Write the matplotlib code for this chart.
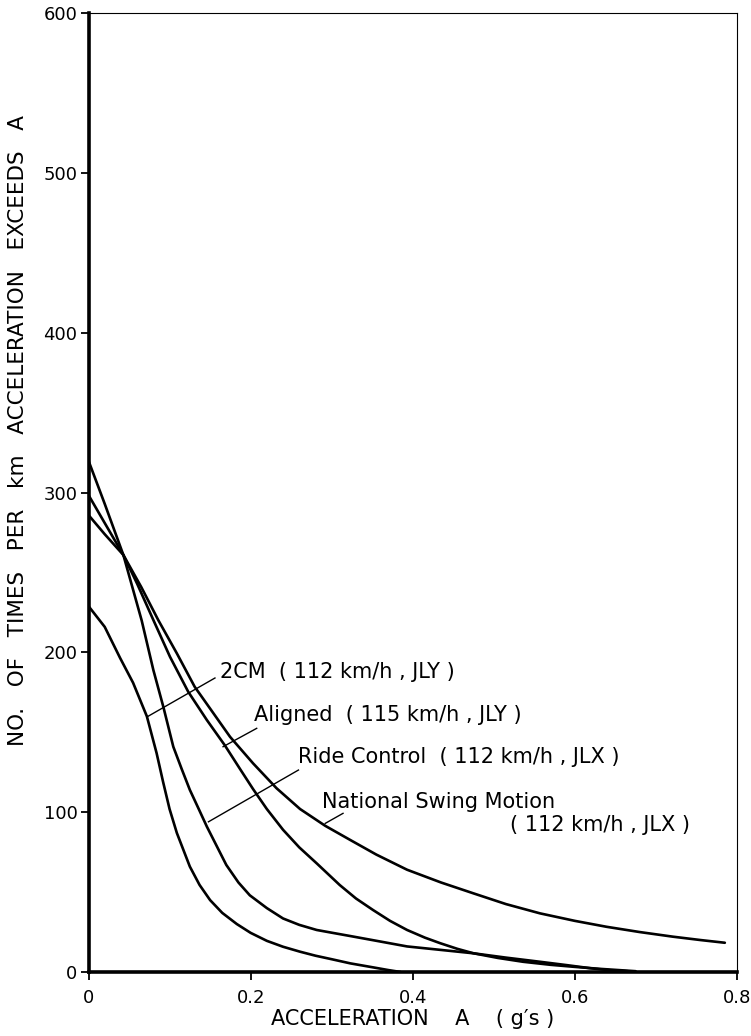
import matplotlib
matplotlib.use("Agg")
import matplotlib.pyplot as plt

plt.rcParams['font.family'] = ['DejaVu Sans']

# ---- data ----
x_2cm = [0, 0.020, 0.039, 0.055, 0.072, 0.084, 0.092, 0.100, 0.109, 0.125, 0.137, 0.150, 0.165, 0.183, 0.200, 0.220, 0.240, 0.261, 0.280, 0.300, 0.323, 0.350, 0.370, 0.385]
y_2cm = [229, 216, 196.5, 181, 160, 137, 119, 102, 87, 66, 54.5, 45, 37, 30, 24.5, 19.5, 15.8, 12.7, 10.2, 8, 5.4, 3, 1.2, 0]

x_ride = [0, 0.020, 0.043, 0.0656, 0.080, 0.0923, 0.1046, 0.115, 0.125, 0.136, 0.146, 0.158, 0.170, 0.185, 0.199, 0.220, 0.240, 0.260, 0.2815, 0.300, 0.323, 0.350, 0.393, 0.435, 0.475, 0.515, 0.557, 0.590, 0.620, 0.645, 0.665]
y_ride = [320, 293, 261, 220, 189, 166, 141, 127, 114, 102, 91, 79, 67, 56, 48, 40, 33.5, 29.5, 26.3, 24.6, 22.5, 20, 16, 13.8, 11.7, 9, 6.4, 4.3, 2.3, 1, 0.5]

x_aligned = [0, 0.020, 0.043, 0.060, 0.080, 0.1005, 0.123, 0.146, 0.168, 0.187, 0.203, 0.220, 0.240, 0.260, 0.2815, 0.310, 0.330, 0.351, 0.372, 0.393, 0.415, 0.434, 0.455, 0.475, 0.505, 0.536, 0.570, 0.600, 0.630, 0.660, 0.675]
y_aligned = [298.5, 281, 261, 243, 220.3, 197.3, 175.4, 157.7, 142, 127, 114.5, 102, 89, 78, 68, 54.4, 46, 38.8, 32, 26.3, 21.5, 18, 14.5, 11.7, 8.8, 6.4, 4.5, 3.2, 2, 1, 0.5]

x_nsm = [0, 0.020, 0.043, 0.065, 0.086, 0.109, 0.131, 0.154, 0.1746, 0.203, 0.232, 0.261, 0.292, 0.323, 0.355, 0.393, 0.435, 0.475, 0.515, 0.557, 0.600, 0.639, 0.680, 0.721, 0.755, 0.785]
y_nsm = [286, 274, 261, 241, 220.3, 199.4, 178.5, 162, 147.2, 130.6, 115, 102, 91.5, 82.6, 73.5, 64, 56, 49.2, 42.5, 36.7, 32, 28.3, 25, 22.1, 20, 18.3]

x_ticks = [0, 0.2, 0.4, 0.6, 0.8]
x_ticklabels = ['0', '0.2', '0.4', '0.6', '0.8']
y_ticks = [0, 100, 200, 300, 400, 500, 600]

fig = plt.figure(figsize=(7.51, 10.36), dpi=100)
ax = fig.add_axes([88.5 / 751, 1 - 972 / 1036, (737 - 88.5) / 751, (972 - 13.3) / 1036])

lw = 1.9
for xs, ys in [(x_2cm, y_2cm), (x_ride, y_ride), (x_aligned, y_aligned), (x_nsm, y_nsm)]:
    ax.plot(xs, ys, color='black', lw=lw, solid_capstyle='round', solid_joinstyle='round')

ax.set_xlim(0, 0.8)
ax.set_ylim(0, 600)
ax.set_xticks(x_ticks)
ax.set_xticklabels(x_ticklabels)
ax.set_yticks(y_ticks)

for side in ['left', 'bottom']:
    ax.spines[side].set_linewidth(2.6)
for side in ['top', 'right']:
    ax.spines[side].set_linewidth(0.8)

ax.tick_params(direction='out', length=6, width=1.3, labelsize=13, colors='black')
ax.tick_params(axis='x', pad=6)
ax.tick_params(axis='y', pad=2)

ax.set_xlabel("ACCELERATION    A    ( g\u2032s )", fontsize=15, labelpad=2)
ax.set_ylabel("NO.   OF   TIMES   PER   km   ACCELERATION   EXCEEDS   A", fontsize=15.5)
ax.yaxis.set_label_coords(-0.094, 0.565)

fs = 15
# labels with leader lines
ax.text(0.1625, 188, '2CM  ( 112 km/h , JLY )', fontsize=fs, va='center', ha='left')
ax.plot([0.156, 0.072], [184, 159.6], color='black', lw=1.0)

ax.text(0.204, 160.8, 'Aligned  ( 115 km/h , JLY )', fontsize=fs, va='center', ha='left')
ax.plot([0.2075, 0.166], [152.5, 141], color='black', lw=1.0)

ax.text(0.259, 134.7, 'Ride Control  ( 112 km/h , JLX )', fontsize=fs, va='center', ha='left')
ax.plot([0.259, 0.148], [126.4, 94], color='black', lw=1.0)

ax.text(0.2877, 106.6, 'National Swing Motion', fontsize=fs, va='center', ha='left')
ax.text(0.52, 92, '( 112 km/h , JLX )', fontsize=fs, va='center', ha='left')
ax.plot([0.314, 0.292], [99.3, 93], color='black', lw=1.0)

fig.savefig('out.png', dpi=100)
